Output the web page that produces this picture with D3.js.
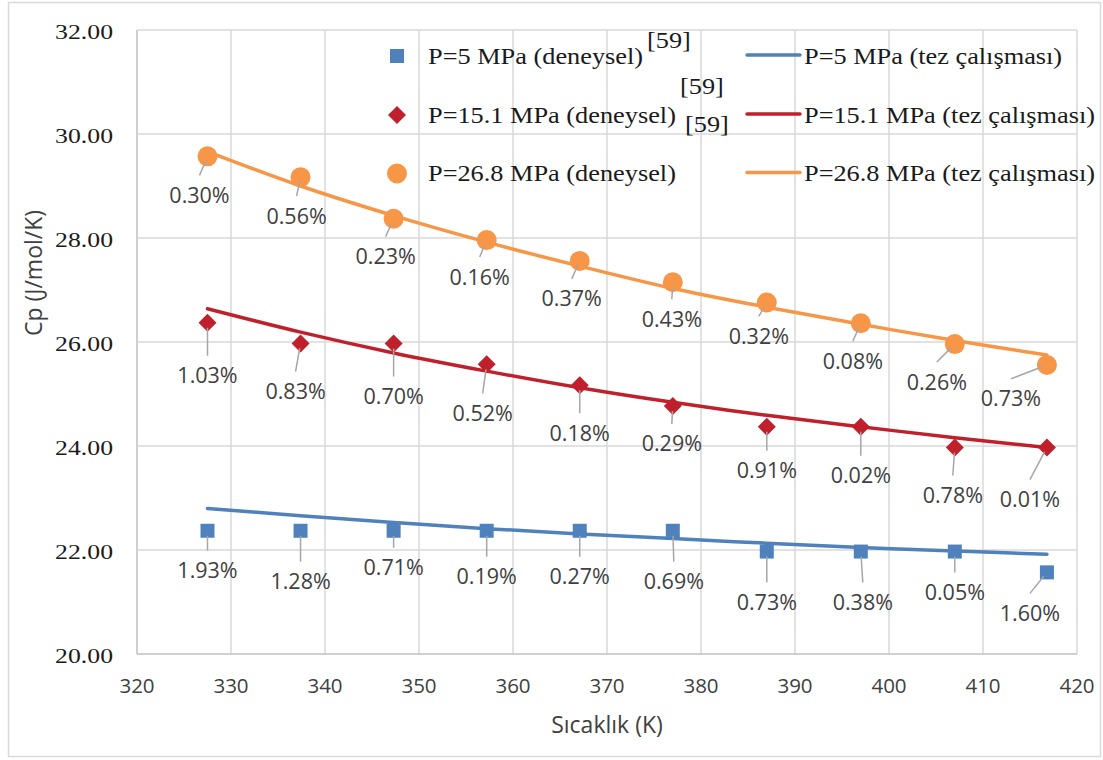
<!DOCTYPE html>
<html>
<head>
<meta charset="utf-8">
<script src="https://cdn.jsdelivr.net/npm/d3@7"></script>
<style>
  body { margin: 0; background: #fff; }
  svg { display: block; }
</style>
</head>
<body>
<script>
// temperatures (K) and Cp values (J/mol/K)
const temps = [327.5, 337.4, 347.3, 357.2, 367.1, 377.0, 387.0, 397.0, 407.0, 416.8]

const expP5   = [22.37, 22.37, 22.37, 22.37, 22.37, 22.37, 21.97, 21.97, 21.97, 21.57]
const expP151 = [26.37, 25.97, 25.97, 25.57, 25.17, 24.77, 24.37, 24.37, 23.97, 23.97]
const expP268 = [29.57, 29.17, 28.37, 27.96, 27.56, 27.15, 26.76, 26.36, 25.96, 25.56]

const modP5   = [22.80, 22.66, 22.53, 22.41, 22.31, 22.22, 22.13, 22.05, 21.98, 21.92]
const modP151 = [26.64, 26.19, 25.79, 25.44, 25.12, 24.84, 24.59, 24.37, 24.16, 23.97]
const modP268 = [29.66, 29.00, 28.43, 27.92, 27.46, 27.03, 26.67, 26.34, 26.03, 25.75]

const errP5   = ["1.93%", "1.28%", "0.71%", "0.19%", "0.27%", "0.69%", "0.73%", "0.38%", "0.05%", "1.60%"]
const errP151 = ["1.03%", "0.83%", "0.70%", "0.52%", "0.18%", "0.29%", "0.91%", "0.02%", "0.78%", "0.01%"]
const errP268 = ["0.30%", "0.56%", "0.23%", "0.16%", "0.37%", "0.43%", "0.32%", "0.08%", "0.26%", "0.73%"]

const xTicks = [320, 330, 340, 350, 360, 370, 380, 390, 400, 410, 420]
const yTicks = [20, 22, 24, 26, 28, 30, 32]

const expNames = ["P=5 MPa (deneysel)", "P=15.1 MPa (deneysel)", "P=26.8 MPa (deneysel)"]
const modNames = ["P=5 MPa (tez çalışması)", "P=15.1 MPa (tez çalışması)", "P=26.8 MPa (tez çalışması)"]

// label placement (pixel shift of each data label from its point)
const shiftP5   = [[0,40],[0,51],[0,37],[0,46],[0,46],[1,51],[0,51],[2,51],[0,41],[-17,41]]
const shiftP151 = [[0,53],[-5,48],[0,53],[-4,49],[0,48],[-1,38],[0,44],[0,49],[-2,48],[-17,52]]
const shiftP268 = [[-8,39],[-4,39],[-8,38],[-7,37],[-8,38],[-1,37],[-8,34],[-8,38],[-18,38],[-36,34]]

var w = 1103
var h = 760
var serif = "'Liberation Serif', 'Times New Roman', serif"
var sans = "'Open Sans', 'Noto Sans', sans-serif"
var stretch = 1.17   // the serif text in the original is drawn wider than normal

var series = [
  { exp: expP5,   mod: modP5,   err: errP5,   shift: shiftP5,   color: "#4F81BD", shape: "square" },
  { exp: expP151, mod: modP151, err: errP151, shift: shiftP151, color: "#C0202B", shape: "diamond" },
  { exp: expP268, mod: modP268, err: errP268, shift: shiftP268, color: "#F79646", shape: "circle" }
]

var svg = d3.select("body").append("svg")
  .attr("width", w)
  .attr("height", h)

// outer chart border
svg.append("rect")
  .attr("x", 8.5).attr("y", 2.5)
  .attr("width", 1092).attr("height", 754)
  .attr("fill", "#fff")
  .attr("stroke", "#D9D9D9")
  .attr("stroke-width", 1.5)

var xScale = d3.scaleLinear().domain([320, 420]).range([137, 1077])
var yScale = d3.scaleLinear().domain([20, 32]).range([654, 30])

// grid
svg.append("g").selectAll("line")
  .data(yTicks)
  .enter().append("line")
  .attr("x1", xScale(320)).attr("x2", xScale(420))
  .attr("y1", d => yScale(d)).attr("y2", d => yScale(d))
  .attr("stroke", "#D9D9D9").attr("stroke-width", 1.5)

svg.append("g").selectAll("line")
  .data(xTicks)
  .enter().append("line")
  .attr("x1", d => xScale(d)).attr("x2", d => xScale(d))
  .attr("y1", yScale(20)).attr("y2", yScale(32))
  .attr("stroke", "#D9D9D9").attr("stroke-width", 1.5)

// axis lines
svg.append("line")
  .attr("x1", xScale(320)).attr("x2", xScale(420))
  .attr("y1", yScale(20)).attr("y2", yScale(20))
  .attr("stroke", "#C8C8C8").attr("stroke-width", 1.5)
svg.append("line")
  .attr("x1", xScale(320)).attr("x2", xScale(320))
  .attr("y1", yScale(20)).attr("y2", yScale(32))
  .attr("stroke", "#C8C8C8").attr("stroke-width", 1.5)

// tick labels
svg.append("g").selectAll("text")
  .data(yTicks)
  .enter().append("text")
  .attr("transform", d => "translate(113," + (yScale(d) + 9) + ") scale(" + stretch + ",1)")
  .attr("text-anchor", "end")
  .style("font-family", serif)
  .style("font-size", "22px")
  .style("fill", "#1a1a1a")
  .text(d => d3.format(".2f")(d))

svg.append("g").selectAll("text")
  .data(xTicks)
  .enter().append("text")
  .attr("x", d => xScale(d))
  .attr("y", 693)
  .attr("text-anchor", "middle")
  .style("font-family", sans)
  .style("font-size", "20.5px")
  .style("fill", "#404040")
  .text(d => d)

// axis titles
svg.append("text")
  .attr("x", 607).attr("y", 733)
  .attr("text-anchor", "middle")
  .style("font-family", sans)
  .style("font-size", "23px")
  .style("fill", "#404040")
  .text("Sıcaklık (K)")

svg.append("text")
  .attr("transform", "translate(42,273) rotate(-90)")
  .attr("text-anchor", "middle")
  .style("font-family", sans)
  .style("font-size", "23px")
  .style("fill", "#404040")
  .text("Cp (J/mol/K)")

// marker drawing
function marker(sel, shape, color) {
  if (shape == "square") {
    sel.append("rect")
      .attr("x", -7).attr("y", -7).attr("width", 14).attr("height", 14)
      .attr("fill", color)
  } else if (shape == "diamond") {
    sel.append("path")
      .attr("d", "M0,-9L9,0L0,9L-9,0Z")
      .attr("fill", color)
  } else {
    sel.append("circle")
      .attr("r", 10)
      .attr("fill", color)
  }
}

var line = d3.line()
  .x((d, i) => xScale(temps[i]))
  .y(d => yScale(d))
  .curve(d3.curveCatmullRom.alpha(0.5))

series.forEach(function (s) {
  svg.append("path")
    .datum(s.mod)
    .attr("d", line)
    .attr("fill", "none")
    .attr("stroke", s.color)
    .attr("stroke-width", 3.5)
    .attr("stroke-linecap", "round")

  var pts = svg.append("g").selectAll("g")
    .data(s.exp)
    .enter().append("g")
    .attr("transform", (d, i) => "translate(" + xScale(temps[i]) + "," + yScale(d) + ")")
  marker(pts, s.shape, s.color)
})

// leader lines and data labels
series.forEach(function (s) {
  var g = svg.append("g")
  s.exp.forEach(function (v, i) {
    var px = xScale(temps[i])
    var py = yScale(v)
    var lx = px + s.shift[i][0]
    var ly = py + s.shift[i][1]
    var ex = lx, ey = ly - 20
    var dx = ex - px, dy = ey - py
    var len = Math.sqrt(dx * dx + dy * dy)
    g.append("line")
      .attr("x1", px + dx / len * 5).attr("y1", py + dy / len * 5)
      .attr("x2", ex).attr("y2", ey)
      .attr("stroke", "#A6A6A6")
      .attr("stroke-width", 1.5)
    g.append("text")
      .attr("x", lx).attr("y", ly + 7.5)
      .attr("text-anchor", "middle")
      .style("font-family", sans)
      .style("font-size", "21.5px")
      .style("fill", "#404040")
      .text(s.err[i])
  })
})

// legend
var rowY = [56, 115, 173.5]
var legend = svg.append("g")
series.forEach(function (s, i) {
  var m = legend.append("g").attr("transform", "translate(397," + rowY[i] + ")")
  marker(m, s.shape, s.color)
  legend.append("text")
    .attr("transform", "translate(428," + (rowY[i] + 7.5) + ") scale(" + stretch + ",1)")
    .style("font-family", serif)
    .style("font-size", "22.5px")
    .style("fill", "#1a1a1a")
    .text(expNames[i])

  legend.append("line")
    .attr("x1", 747).attr("x2", 800)
    .attr("y1", rowY[i] - 1).attr("y2", rowY[i] - 1)
    .attr("stroke", s.color)
    .attr("stroke-width", 3.5)
    .attr("stroke-linecap", "round")
  legend.append("text")
    .attr("transform", "translate(804," + (rowY[i] + 7.5) + ") scale(" + stretch + ",1)")
    .style("font-family", serif)
    .style("font-size", "22.5px")
    .style("fill", "#1a1a1a")
    .text(modNames[i])
})

// reference marks left in the legend
var refs = [[647, 48], [680, 94], [685, 132]]
legend.selectAll("text.ref")
  .data(refs)
  .enter().append("text")
  .attr("class", "ref")
  .attr("transform", d => "translate(" + d[0] + "," + d[1] + ") scale(" + stretch + ",1)")
  .style("font-family", serif)
  .style("font-size", "22.5px")
  .style("fill", "#1a1a1a")
  .text("[59]")
</script>
</body>
</html>
